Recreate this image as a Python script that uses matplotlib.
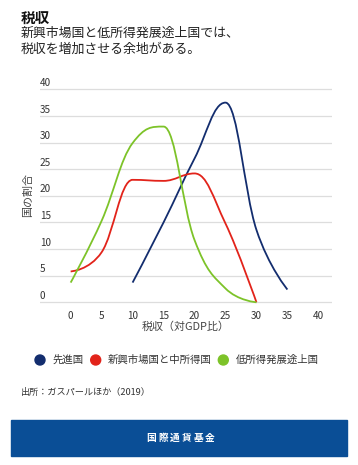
import numpy as np
import matplotlib
matplotlib.use("Agg")
import matplotlib.pyplot as plt
from matplotlib.path import Path
from matplotlib.patches import PathPatch, Rectangle, Circle

plt.rcParams['font.family'] = ['Noto Sans CJK JP', 'DejaVu Sans']

# data
x_adv = [10, 15, 20, 25, 30, 35]
y_adv = [3.7, 15.0, 27.0, 37.5, 13.6, 2.4]
x_emg = [0, 5, 10, 15, 20, 25, 30]
y_emg = [5.8, 9.4, 23.0, 22.8, 24.2, 14.8, 0.0]
x_low = [0, 5, 10, 15, 20, 25, 30]
y_low = [3.7, 15.3, 29.9, 33.0, 11.7, 2.6, 0.0]

series_names = ['先進国', '新興市場国と中所得国', '低所得発展途上国']
series_colors = ['#132d6e', '#e2231a', '#7dc329']
y_ticks = [0, 5, 10, 15, 20, 25, 30, 35, 40]
x_ticks = [0, 5, 10, 15, 20, 25, 30, 35, 40]


def spline_path(xs, ys, smoothing=1.5):
    # highcharts style spline: bezier segments with control points
    n = len(xs)
    lc = [(xs[i], ys[i]) for i in range(n)]
    rc = [(xs[i], ys[i]) for i in range(n)]
    d = smoothing + 1
    for i in range(1, n - 1):
        px, py = xs[i], ys[i]
        lx, ly = xs[i - 1], ys[i - 1]
        nx, ny = xs[i + 1], ys[i + 1]
        lcx = (smoothing * px + lx) / d
        lcy = (smoothing * py + ly) / d
        rcx = (smoothing * px + nx) / d
        rcy = (smoothing * py + ny) / d
        corr = (rcy - lcy) * (rcx - px) / (rcx - lcx) + py - rcy
        lcy += corr
        rcy += corr
        if lcy > ly and lcy > py:
            lcy = max(ly, py)
            rcy = 2 * py - lcy
        elif lcy < ly and lcy < py:
            lcy = min(ly, py)
            rcy = 2 * py - lcy
        if rcy > ny and rcy > py:
            rcy = max(ny, py)
            lcy = 2 * py - rcy
        elif rcy < ny and rcy < py:
            rcy = min(ny, py)
            lcy = 2 * py - rcy
        lc[i] = (lcx, lcy)
        rc[i] = (rcx, rcy)
    verts = [(xs[0], ys[0])]
    codes = [Path.MOVETO]
    for i in range(1, n):
        verts += [rc[i - 1], lc[i], (xs[i], ys[i])]
        codes += [Path.CURVE4] * 3
    return Path(verts, codes)


W, H = 358, 465
fig = plt.figure(figsize=(W / 100, H / 100), dpi=100)

# axes placed in pixel terms
ax_l, ax_r = 40, 332
y0_px, y40_px = 302.3, 89.3
ppu = (y0_px - y40_px) / 40
ylo, yhi = -0.6, 40.6
bot = y0_px - ylo * ppu
top = y40_px - (yhi - 40) * ppu
ax = fig.add_axes([ax_l / W, 1 - bot / H, (ax_r - ax_l) / W, (bot - top) / H])
ax.set_xlim(-4.95, 42.2)
ax.set_ylim(ylo, yhi)
for s in ax.spines.values():
    s.set_visible(False)
ax.set_yticks([])
ax.set_xticks(x_ticks)
ax.set_xticklabels([str(t) for t in x_ticks], fontsize=7.2, color='#333333')
ax.tick_params(axis='x', length=0, pad=4)

for t in y_ticks:
    ax.axhline(t, color='#dddddd', lw=0.9, zorder=0)
    ax.text(0, t + 0.25, str(t), transform=ax.get_yaxis_transform(), fontsize=7.2,
            color='#333333', ha='left', va='bottom')

for xs, ys, c in [(x_adv, y_adv, series_colors[0]),
                  (x_emg, y_emg, series_colors[1]),
                  (x_low, y_low, series_colors[2])]:
    ax.add_patch(PathPatch(spline_path(xs, ys), fill=False, edgecolor=c,
                           lw=1.3, zorder=3))

fig.text(186 / W, 1 - 326.5 / H, '税収（対GDP比）', fontsize=7.9, color='#444444',
         ha='center', va='center')
fig.text(28 / W, 1 - 195 / H, '国の割合', fontsize=7.9, color='#444444',
         ha='center', va='center', rotation=90)

# title block
fig.text(21 / W, 1 - 17.5 / H, '税収', fontsize=10.5, fontweight='bold',
         color='#111111', ha='left', va='center')
fig.text(21 / W, 1 - 33 / H, '新興市場国と低所得発展途上国では、', fontsize=9.3,
         color='#222222', ha='left', va='center')
fig.text(21 / W, 1 - 49 / H, '税収を増加させる余地がある。', fontsize=9.3,
         color='#222222', ha='left', va='center')

# legend
leg_x = [40, 95.7, 223.3]
for i in range(3):
    fig.patches.append(Circle((leg_x[i] / 100, (H - 360) / 100), 5 / 100,
                              transform=fig.dpi_scale_trans,
                              color=series_colors[i]))
    fig.text((leg_x[i] + 12.5) / W, 1 - 360 / H, series_names[i], fontsize=7.5,
             color='#333333', ha='left', va='center')

fig.text(21 / W, 1 - 392 / H, '出所：ガスパールほか（2019）', fontsize=6.6,
         color='#333333', ha='left', va='center')

# footer band
fig.patches.append(Rectangle((11 / W, 1 - 455.7 / H), (346.7 - 11) / W,
                             (455.7 - 420) / H, transform=fig.transFigure,
                             color='#0a4e96'))
foot = '国際通貨基金'
for i, ch in enumerate(foot):
    cx = 180.8 + (i - 2.5) * 11.7
    fig.text(cx / W, 1 - 437.5 / H, ch, fontsize=7, fontweight='bold',
             color='white', ha='center', va='center')

fig.savefig('out.png', dpi=100)
